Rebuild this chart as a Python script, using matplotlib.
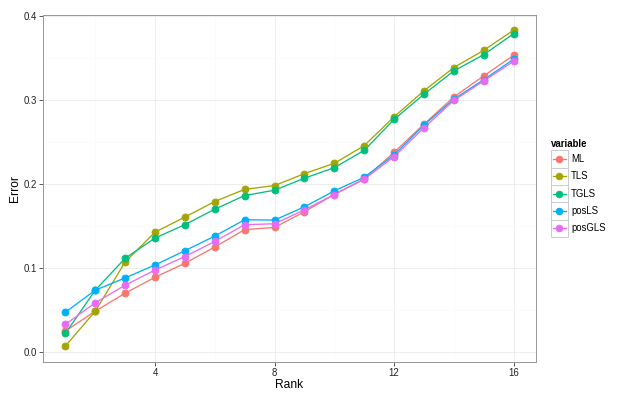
import numpy as np
import matplotlib
matplotlib.use("Agg")
import matplotlib.pyplot as plt
from matplotlib.patches import Rectangle
from matplotlib.lines import Line2D

plt.rcParams['font.family'] = ['Liberation Sans', 'DejaVu Sans']

# data
rank = np.arange(1, 17)
ML = [0.0253, 0.049, 0.0704, 0.0894, 0.106, 0.1254, 0.146, 0.1487,
      0.1673, 0.188, 0.2065, 0.238, 0.2716, 0.304, 0.329, 0.3535]
TLS = [0.0075, 0.049, 0.1076, 0.143, 0.161, 0.1795, 0.194, 0.1985,
       0.2127, 0.225, 0.246, 0.2803, 0.3112, 0.339, 0.3594, 0.3835]
TGLS = [0.0225, 0.074, 0.112, 0.136, 0.152, 0.1704, 0.1866, 0.193,
        0.2072, 0.2198, 0.2404, 0.2772, 0.3072, 0.335, 0.3543, 0.3792]
posLS = [0.0478, 0.074, 0.0886, 0.104, 0.121, 0.1384, 0.1578, 0.1574,
         0.1732, 0.1922, 0.2084, 0.2349, 0.2705, 0.3013, 0.3245, 0.3488]
posGLS = [0.0332, 0.059, 0.0799, 0.098, 0.114, 0.132, 0.152, 0.153,
          0.1696, 0.1878, 0.206, 0.2329, 0.2673, 0.2998, 0.323, 0.3464]

names = ["ML", "TLS", "TGLS", "posLS", "posGLS"]
series = [ML, TLS, TGLS, posLS, posGLS]
colors = ["#F8766D", "#A3A500", "#00BF7D", "#00B0F6", "#E76BF3"]

W, H = 632, 400
fig = plt.figure(figsize=(W / 72, H / 72), dpi=72)
ax = fig.add_axes([43 / W, 1 - 362 / H, (536 - 43) / W, (362 - 15) / H])

# lines first, then points (like ggplot layers)
for s, c in zip(series, colors):
    ax.plot(rank, s, color=c, lw=1.3, zorder=3)
for s, c in zip(series, colors):
    ax.plot(rank, s, "o", color=c, ms=6.8, mec=c, zorder=4)

ax.set_xlim(0.25, 16.75)
ax.set_ylim(-0.0115, 0.4015)
ax.set_xticks([4, 8, 12, 16])
ax.set_xticks([2, 6, 10, 14], minor=True)
ax.set_yticks([0, 0.1, 0.2, 0.3, 0.4])
ax.set_yticks([0.05, 0.15, 0.25, 0.35], minor=True)
ax.set_yticklabels(["0.0", "0.1", "0.2", "0.3", "0.4"])
ax.grid(which="major", color="#EBEBEB", lw=0.9, zorder=0)
ax.grid(which="minor", color="#FAFAFA", lw=0.7, zorder=0)
ax.tick_params(which="major", length=4, width=0.8, color="#333333",
               labelsize=9.6, labelcolor="#222222", pad=2)
ax.tick_params(which="minor", length=0)
for sp in ax.spines.values():
    sp.set_color("#999999")
    sp.set_linewidth(1.0)
ax.set_xlabel("Rank", fontsize=12, labelpad=1)
ax.set_ylabel("Error", fontsize=12, labelpad=3)

# legend with grey key boxes, drawn in pixel coordinates of the figure
def fx(x):
    return x / W

def fy(y):
    return 1 - y / H

fig.text(fx(551), fy(144), "variable", fontsize=9.6, fontweight="bold",
         va="center", ha="left")
row_h = 17.3
top = 150.4
for i, (n, c) in enumerate(zip(names, colors)):
    y0 = top + i * row_h
    fig.add_artist(Rectangle((fx(550.5), fy(y0 + row_h)), 17.3 / W, row_h / H,
                             transform=fig.transFigure, fc="white",
                             ec="#CCCCCC", lw=1.0))
    yc = y0 + row_h / 2
    fig.add_artist(Line2D([fx(552.5), fx(566)], [fy(yc), fy(yc)],
                          transform=fig.transFigure, color=c, lw=1.3))
    fig.add_artist(Line2D([fx(559.2)], [fy(yc)], transform=fig.transFigure,
                          marker="o", ms=6.5, color=c, lw=0))
    fig.text(fx(571), fy(yc), n, fontsize=9.6, va="center", ha="left")

fig.savefig("out.png", dpi=72)
